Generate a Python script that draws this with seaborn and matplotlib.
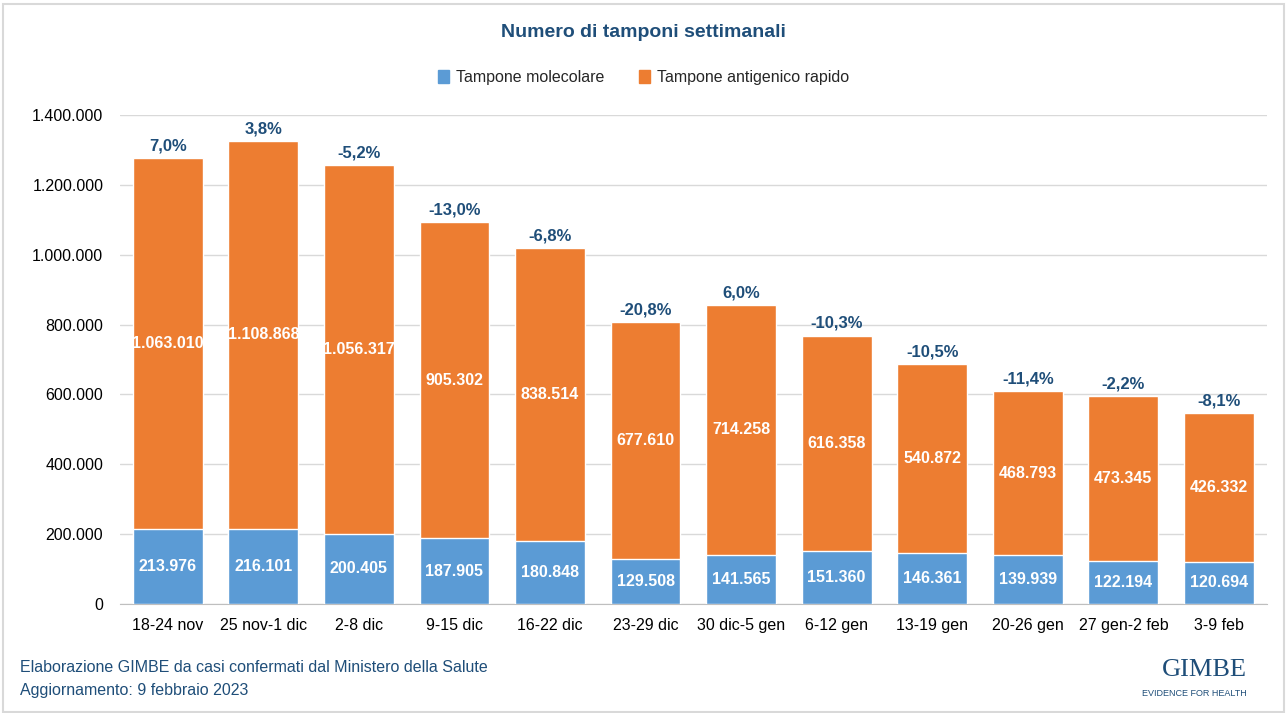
import matplotlib.pyplot as plt
import matplotlib.ticker as ticker
from matplotlib.patches import Rectangle
import pandas as pd
import seaborn as sns

# Data
weeks = [
    "18-24 nov", "25 nov-1 dic", "2-8 dic", "9-15 dic", "16-22 dic",
    "23-29 dic", "30 dic-5 gen", "6-12 gen", "13-19 gen", "20-26 gen",
    "27 gen-2 feb", "3-9 feb",
]
molecolare = [
    213976, 216101, 200405, 187905, 180848, 129508,
    141565, 151360, 146361, 139939, 122194, 120694,
]
antigenico = [
    1063010, 1108868, 1056317, 905302, 838514, 677610,
    714258, 616358, 540872, 468793, 473345, 426332,
]
variazione = [
    "7,0%", "3,8%", "-5,2%", "-13,0%", "-6,8%", "-20,8%",
    "6,0%", "-10,3%", "-10,5%", "-11,4%", "-2,2%", "-8,1%",
]

BLUE = "#5b9bd5"
ORANGE = "#ed7d31"
NAVY = "#1f4e79"


def it_fmt(v):
    return f"{int(v):,}".replace(",", ".")


df = pd.DataFrame({"week": weeks, "mol": molecolare, "ant": antigenico})
df["tot"] = df["mol"] + df["ant"]

sns.set_style("white")
plt.rcParams["font.family"] = ["Liberation Sans", "DejaVu Sans"]

fig = plt.figure(figsize=(12.87, 7.13), dpi=100)
ax = fig.add_axes([0.0932, 0.1529, 0.891, 0.6858])

# Stacked bars: total in orange, molecular drawn over it
sns.barplot(data=df, x="week", y="tot", color=ORANGE, width=0.73,
            saturation=1, ax=ax, zorder=2)
sns.barplot(data=df, x="week", y="mol", color=BLUE, width=0.73,
            saturation=1, ax=ax, zorder=3)

ax.set_ylim(0, 1400000)
ax.set_xlim(-0.5, len(weeks) - 0.5)
ax.yaxis.set_major_locator(ticker.MultipleLocator(200000))
ax.yaxis.set_major_formatter(ticker.FuncFormatter(lambda v, p: it_fmt(v)))
ax.grid(axis="y", color="#d9d9d9", linewidth=1, zorder=0)
ax.set_axisbelow(True)
for side in ["top", "right", "left"]:
    ax.spines[side].set_visible(False)
ax.spines["bottom"].set_color("#bfbfbf")
ax.tick_params(axis="both", length=0, labelsize=11.5, colors="black")
ax.tick_params(axis="x", pad=10)
ax.tick_params(axis="y", pad=12)
ax.set_xlabel("")
ax.set_ylabel("")

# Labels
for i, row in df.iterrows():
    ax.text(i, row["mol"] / 2, it_fmt(row["mol"]), ha="center",
            va="center", color="white", fontsize=11.5, fontweight="bold",
            zorder=4)
    ax.text(i, row["mol"] + row["ant"] / 2, it_fmt(row["ant"]),
            ha="center", va="center", color="white", fontsize=11.5,
            fontweight="bold", zorder=4)
    ax.annotate(variazione[i], (i, row["tot"]), xytext=(0, 3.5),
                textcoords="offset points", ha="center", va="bottom",
                color=NAVY, fontsize=12, fontweight="bold")

# Title and legend
fig.text(0.5, 0.955, "Numero di tamponi settimanali", ha="center",
         va="center", color=NAVY, fontsize=14, fontweight="bold")
handles = [Rectangle((0, 0), 1, 1, color=BLUE),
           Rectangle((0, 0), 1, 1, color=ORANGE)]
fig.legend(handles, ["Tampone molecolare", "Tampone antigenico rapido"],
           loc="center", bbox_to_anchor=(0.5, 0.891), ncol=2, frameon=False,
           fontsize=11.5, handlelength=0.7, handleheight=0.9,
           handletextpad=0.4, columnspacing=2.2)

# Footer
fig.text(0.0155, 0.064, "Elaborazione GIMBE da casi confermati dal Ministero della Salute",
         ha="left", va="center", color=NAVY, fontsize=11.5)
fig.text(0.0155, 0.032, "Aggiornamento: 9 febbraio 2023", ha="left",
         va="center", color=NAVY, fontsize=11.5)
fig.text(0.969, 0.061, "GIMBE", ha="right", va="center", color=NAVY,
         fontsize=19, family="Liberation Serif")
fig.text(0.969, 0.027, "EVIDENCE FOR HEALTH", ha="right", va="center",
         color=NAVY, fontsize=6.5)

# Frame around the picture
fig.patches.append(Rectangle((0.002, 0.002), 0.996, 0.993,
                             transform=fig.transFigure, fill=False,
                             edgecolor="#d9d9d9", linewidth=1.5))

fig.savefig("out.png", dpi=100)
